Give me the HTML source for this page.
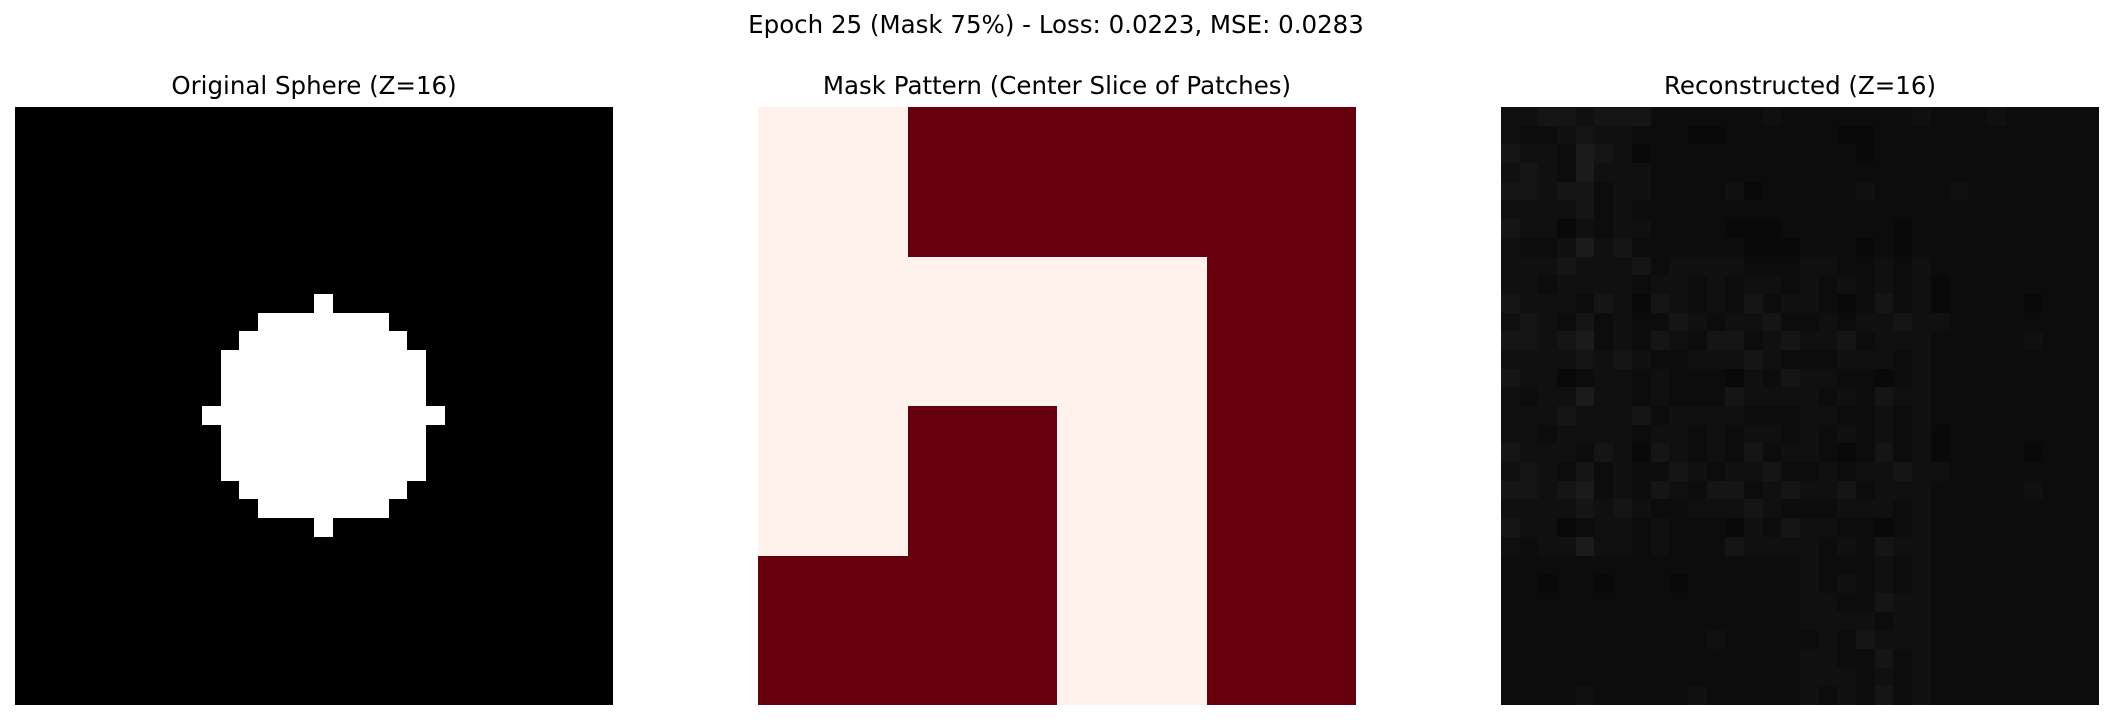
<!DOCTYPE html>
<html><head><meta charset="utf-8"><style>
html,body{margin:0;padding:0;background:#fff;}
body{width:2112px;height:720px;position:relative;overflow:hidden;font-family:"DejaVu Sans","Liberation Sans",sans-serif;}
.t{position:absolute;white-space:nowrap;color:#000;transform:translateX(-50%);line-height:1;}
svg{position:absolute;left:0;top:0;}
</style></head><body>
<div class="t" style="left:1056px;top:13px;font-size:24.5px;">Epoch 25 (Mask 75%) - Loss: 0.0223, MSE: 0.0283</div>
<div class="t" style="left:314px;top:74px;font-size:24.5px;">Original Sphere (Z=16)</div>
<div class="t" style="left:1057px;top:74px;font-size:24.5px;">Mask Pattern (Center Slice of Patches)</div>
<div class="t" style="left:1800px;top:74px;font-size:24.5px;">Reconstructed (Z=16)</div>
<svg id="fig" width="2112" height="720" shape-rendering="crispEdges"></svg>
<script>
// ---- data ----
const gridSize = 32;
const sphereCenter = [16, 16];
const sphereRadius = 6;
const maskRows = [
  [0,1,1,1],
  [0,0,0,1],
  [0,1,0,1],
  [1,1,0,1]
];
const reconLevels = [
 "22332333111111211111112111211111",
 "21123221110011111100111111111111",
 "32214320111111111110111111111111",
 "23214222111111111111111111111111",
 "33233122111120111112111121111111",
 "22223121111111111111111111111111",
 "32202122111100011111101111111111",
 "21124231111110001110101111111111",
 "22232223122221112211212111111111",
 "22122221221212212121212011111111",
 "32221320321213122101312011110111",
 "23213121132122311212232211111111",
 "33234121321331232231222111112111",
 "22223232112223211122212111111111",
 "32201221211102132211012111111111",
 "21224221211132222121322111111111",
 "22232223122221112211212111111111",
 "22122221221212212121212011111111",
 "32221320321213122101312011110111",
 "23213121132122311212232211111111",
 "33234121321331232231222111112111",
 "22223232112223211122212111111111",
 "32201221211102132211012111111111",
 "21224221211132222121322111111111",
 "11111111111111112111212111111111",
 "11011011101111112121212111111111",
 "11111111111111112211322111111111",
 "11111111111111112222122111111111",
 "11111111111211111213222111111111",
 "11111111111111112211312111111111",
 "11111111111111112221212111111111",
 "11112111112111112121312111111111"
];
const grayValues = [9,12,16,21,27];
const panelX = [15, 758, 1501];
const panelY = 107, panelW = 598;
const NS = "http://www.w3.org/2000/svg";
const svg = document.getElementById('fig');
function rect(x,y,w,h,fill,name){
  const r=document.createElementNS(NS,'rect');
  r.setAttribute('x',x);r.setAttribute('y',y);r.setAttribute('width',w);r.setAttribute('height',h);r.setAttribute('fill',fill);
  
  
  svg.appendChild(r);return r;
}
const cell = panelW/gridSize;
function cx(p,i){return panelX[p]+i*cell;}
function cy(j){return panelY+j*cell;}
// panel 1: sphere
rect(panelX[0],panelY,panelW,panelW,'#000','original-sphere-image');
for(let r=0;r<gridSize;r++)for(let c=0;c<gridSize;c++){
  const d=(r-sphereCenter[0])**2+(c-sphereCenter[1])**2;
  if(d<=sphereRadius*sphereRadius){
    const x0=Math.round(cx(0,c)), x1=Math.round(cx(0,c+1)), y0=Math.round(cy(r)), y1=Math.round(cy(r+1));
    rect(x0,y0,x1-x0,y1-y0,'#fff','sphere-voxel');
  }
}
// panel 2: mask
const mp = panelW/maskRows.length;
maskRows.forEach((row,r)=>row.forEach((v,c)=>{
  const x0=Math.round(panelX[1]+c*mp), x1=Math.round(panelX[1]+(c+1)*mp), y0=Math.round(panelY+r*mp), y1=Math.round(panelY+(r+1)*mp);
  rect(x0,y0,x1-x0,y1-y0, v?'#67000d':'#fff2ed','mask-patch');
}));
// panel 3: reconstruction
reconLevels.forEach((row,r)=>{
  for(let c=0;c<gridSize;c++){
    const g=grayValues[+row[c]];
    const x0=Math.round(cx(2,c)), x1=Math.round(cx(2,c+1)), y0=Math.round(cy(r)), y1=Math.round(cy(r+1));
    rect(x0,y0,x1-x0,y1-y0,`rgb(${g},${g},${g})`,'recon-voxel');
  }
});
</script>
</body></html>
